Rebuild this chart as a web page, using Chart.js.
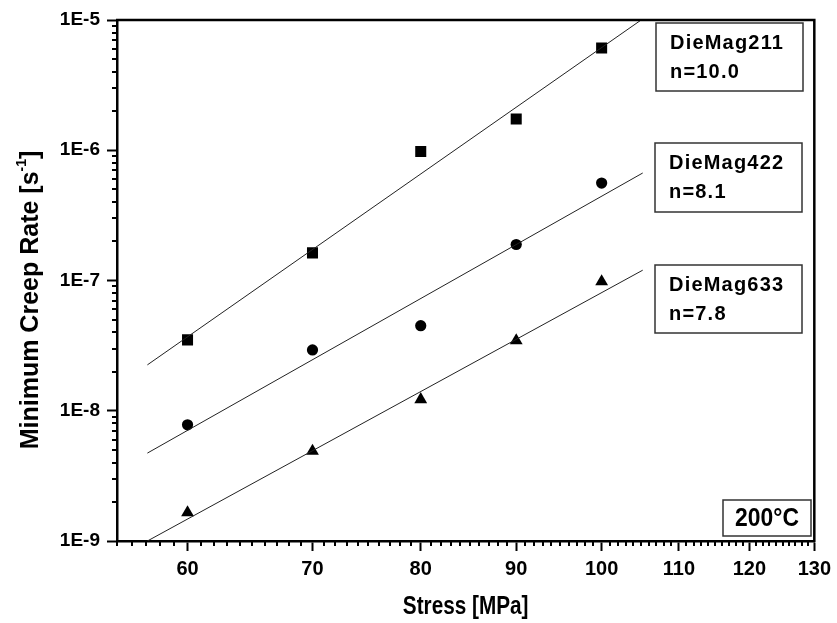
<!DOCTYPE html>
<html>
<head>
<meta charset="utf-8">
<script src="https://cdn.jsdelivr.net/npm/chart.js@4.4.1/dist/chart.umd.min.js"></script>
<style>
  html, body { margin: 0; padding: 0; background: #fff; }
  #wrap { width: 837px; height: 623px; }
</style>
</head>
<body>
<div id="wrap"><canvas id="creepChart" width="837" height="623"></canvas></div>
<script>
// stress levels [MPa]
const stress = [60, 70, 80, 90, 100];
// minimum creep rate [1/s]
const rate211 = [3.5e-8, 1.63e-7, 9.8e-7, 1.74e-6, 6.1e-6];
const rate422 = [7.8e-9, 2.93e-8, 4.5e-8, 1.89e-7, 5.6e-7];
const rate633 = [1.65e-9, 4.9e-9, 1.22e-8, 3.46e-8, 9.8e-8];
// power law fit lines (end points)
const fitStress = [57.1, 105.2];
const fit211 = [2.25e-8, 1.02e-5];
const fit422 = [4.73e-9, 6.69e-7];
const fit633 = [1.0e-9, 1.2e-7];
// axis ticks
const xTicks = [60, 70, 80, 90, 100, 110, 120, 130];
const yTicks = [1e-9, 1e-8, 1e-7, 1e-6, 1e-5];
// annotation texts
const alloys = ['DieMag211', 'DieMag422', 'DieMag633'];
const exponents = ['n=10.0', 'n=8.1', 'n=7.8'];
const tempLabel = '200°C';

// minor ticks: every 1 MPa on x, 2..9 per decade on y
const xMinor = [];
for (let v = 55; v <= 130; v++) if (!xTicks.includes(v)) xMinor.push(v);
const yMinor = [];
for (let e = -9; e < -5; e++) for (let m = 2; m <= 9; m++) yMinor.push(m * Math.pow(10, e));

const pts = (xs, ys) => xs.map((x, i) => ({x: x, y: ys[i]}));

const SANS = "'Liberation Sans', Arial, sans-serif";
Chart.defaults.font.family = SANS;
Chart.defaults.color = '#000';

// narrow-looking text: squeeze horizontally around its centre
function narrowText(ctx, text, cx, cy, font, squeeze) {
  ctx.save();
  ctx.font = font;
  ctx.textAlign = 'center';
  ctx.textBaseline = 'middle';
  ctx.translate(cx, cy);
  ctx.scale(squeeze, 1);
  ctx.fillText(text, 0, 0);
  ctx.restore();
}

const decorations = {
  id: 'decorations',
  afterDraw(chart) {
    const {ctx, chartArea: a, scales: {x, y}} = chart;
    ctx.save();
    ctx.strokeStyle = '#000';

    // minor ticks
    ctx.lineWidth = 2;
    ctx.beginPath();
    xMinor.forEach(v => {
      const px = Math.round(x.getPixelForValue(v));
      ctx.moveTo(px, a.bottom);
      ctx.lineTo(px, a.bottom + 5);
    });
    yMinor.forEach(v => {
      const py = Math.round(y.getPixelForValue(v));
      ctx.moveTo(a.left, py);
      ctx.lineTo(a.left - 5, py);
    });
    ctx.stroke();

    // frame top / right
    ctx.lineWidth = 2.5;
    ctx.beginPath();
    ctx.moveTo(a.left - 1, a.top);
    ctx.lineTo(a.right, a.top);
    ctx.lineTo(a.right, a.bottom + 1);
    ctx.stroke();

    // alloy boxes
    const boxes = [[656, 23, 147, 68], [655, 143, 147, 69], [655, 265, 147, 68]];
    ctx.font = 'bold 20px ' + SANS;
    ctx.letterSpacing = '1.2px';
    ctx.textBaseline = 'middle';
    ctx.textAlign = 'left';
    boxes.forEach((b, i) => {
      ctx.fillStyle = '#fff';
      ctx.fillRect(b[0], b[1], b[2], b[3]);
      ctx.lineWidth = 1.5;
      ctx.strokeStyle = '#333';
      ctx.strokeRect(b[0], b[1], b[2], b[3]);
      ctx.fillStyle = '#000';
      ctx.fillText(alloys[i], b[0] + 14, b[1] + 20);
      ctx.fillText(exponents[i], b[0] + 14, b[1] + 49);
    });

    // temperature box
    ctx.letterSpacing = '0px';
    ctx.fillStyle = '#fff';
    ctx.fillRect(723, 500, 88, 36);
    ctx.strokeRect(723, 500, 88, 36);
    ctx.fillStyle = '#000';
    narrowText(ctx, tempLabel, 767, 519, 'bold 26px ' + SANS, 0.88);

    // x title
    narrowText(ctx, 'Stress [MPa]', (a.left + a.right) / 2, 607, 'bold 25px ' + SANS, 0.83);

    // y title with superscript
    const main = 'Minimum Creep Rate [s';
    const sup = '-1';
    const end = ']';
    const fMain = 'bold 25px ' + SANS;
    const fSup = 'bold 14px ' + SANS;
    ctx.font = fMain;
    const wMain = ctx.measureText(main).width;
    const wEnd = ctx.measureText(end).width;
    ctx.font = fSup;
    const wSup = ctx.measureText(sup).width;
    const total = wMain + wSup + wEnd;
    ctx.translate(29, 300);
    ctx.rotate(-Math.PI / 2);
    ctx.textAlign = 'left';
    ctx.textBaseline = 'alphabetic';
    let cx = -total / 2;
    ctx.font = fMain;
    ctx.fillText(main, cx, 9);
    cx += wMain;
    ctx.font = fSup;
    ctx.fillText(sup, cx, -3);
    cx += wSup;
    ctx.font = fMain;
    ctx.fillText(end, cx, 9);
    ctx.restore();
  }
};

new Chart(document.getElementById('creepChart'), {
  type: 'scatter',
  data: {
    datasets: [
      {type: 'line', data: pts(fitStress, fit211), borderColor: '#222', borderWidth: 1, pointRadius: 0, fill: false},
      {type: 'line', data: pts(fitStress, fit422), borderColor: '#222', borderWidth: 1, pointRadius: 0, fill: false},
      {type: 'line', data: pts(fitStress, fit633), borderColor: '#222', borderWidth: 1, pointRadius: 0, fill: false},
      {label: alloys[0], data: pts(stress, rate211), pointStyle: 'rect', pointRadius: 7.8, backgroundColor: '#000', borderColor: '#000', borderWidth: 0},
      {label: alloys[1], data: pts(stress, rate422), pointStyle: 'circle', pointRadius: 5.6, backgroundColor: '#000', borderColor: '#000', borderWidth: 0},
      {label: alloys[2], data: pts(stress, rate633), pointStyle: 'triangle', pointRadius: 7.4, backgroundColor: '#000', borderColor: '#000', borderWidth: 0}
    ]
  },
  options: {
    responsive: false,
    animation: false,
    layout: {padding: {top: 20, right: 18, left: 0, bottom: 0}},
    plugins: {legend: {display: false}, tooltip: {enabled: false}},
    scales: {
      x: {
        type: 'logarithmic',
        min: 55,
        max: 130,
        afterBuildTicks: s => { s.ticks = xTicks.map(v => ({value: v})); },
        afterFit: s => { s.height = 82; },
        border: {display: true, color: '#000', width: 2.5},
        grid: {drawOnChartArea: false, drawTicks: true, tickLength: 10, tickWidth: 2, tickColor: '#000'},
        ticks: {
          autoSkip: false, maxRotation: 0, padding: 6,
          font: {size: 20, weight: 'bold'},
          callback: v => String(v)
        }
      },
      y: {
        type: 'logarithmic',
        min: 1e-9,
        max: 1e-5,
        afterBuildTicks: s => { s.ticks = yTicks.map(v => ({value: v})); },
        afterFit: s => { s.width = 117; },
        border: {display: true, color: '#000', width: 2.5},
        grid: {drawOnChartArea: false, drawTicks: true, tickLength: 10, tickWidth: 2, tickColor: '#000'},
        ticks: {
          autoSkip: false, padding: 7,
          font: {size: 19, weight: 'bold'},
          callback: v => '1E' + Math.round(Math.log10(v))
        }
      }
    }
  },
  plugins: [decorations]
});
</script>
</body>
</html>
